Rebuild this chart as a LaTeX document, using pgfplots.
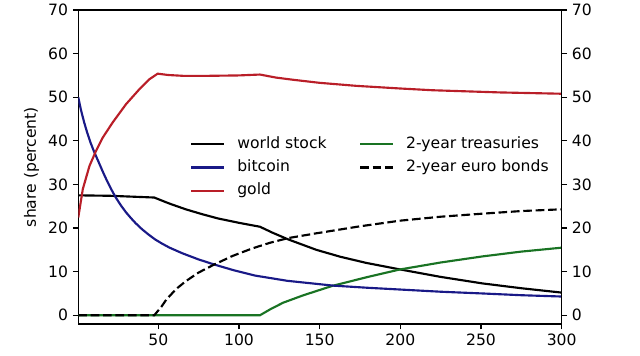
\documentclass[border=0pt]{standalone}
\usepackage{fontspec}
\setmainfont{DejaVu Sans}
\usepackage{pgfplots}
\pgfplotsset{compat=1.18}
\definecolor{cblue}{RGB}{25,25,135}
\definecolor{cred}{RGB}{185,30,40}
\definecolor{cgreen}{RGB}{25,115,35}
\pgfplotsset{
  myax/.style={
    scale only axis, width=362.55pt, height=235.5pt,
    xmin=0.4, xmax=300, ymin=-2, ymax=70,
    ytick={0,10,...,70},
    tick align=outside, major tick length=4.1pt,
    tick style={line width=0.9pt, black},
    axis line style={line width=0.9pt},
    /pgf/number format/assume math mode=true,
    ticklabel style={font=\fontsize{11.7}{14}\selectfont},
    label style={font=\fontsize{11.7}{14}\selectfont},
  }
}
\begin{document}
\begin{tikzpicture}
\begin{axis}[myax,
  xtick={50,100,...,300},
  xtick pos=lower, ytick pos=left, yticklabel pos=left,
  ylabel={share (percent)},
  title={Optimal Shares with Sanctions},
  title style={font=\fontsize{13}{15}\selectfont, at={(0.5,1)}, anchor=base, yshift=4.5pt, inner sep=0pt},
  legend columns=2,
  legend image code/.code={\draw[#1] (0pt,0pt) -- (24.75pt,0pt);},
  legend style={draw=none, fill=none, inner sep=0pt,
    at={(0.231,0.597)}, anchor=north west,
    font=\fontsize{11.7}{14}\selectfont,
    nodes={inner sep=0pt, text height=8.5pt, text depth=2.5pt},
    row sep=6.5pt,
    /tikz/every odd column/.append style={column sep=9pt},
    /tikz/every even column/.append style={column sep=24.3pt}},
  legend cell align=left,
]
\addplot[black, line width=1.6pt] coordinates {
(0.4,27.5) (20,27.4) (47.5,27.0) (57,25.6) (67,24.3) (77,23.2) (87,22.2) (100,21.2) (113,20.3)
(121,18.9) (130.5,17.4) (148,15.0) (163,13.4) (179,12.0) (200,10.5) (225,8.8) (251,7.3) (275,6.2) (300,5.2)};
\addlegendentry{world stock}
\addplot[cgreen, line width=1.6pt] coordinates {
(0.4,0) (113,0) (120,1.5) (127.5,2.9) (140,4.6) (158.4,6.8) (180,8.8) (199.7,10.5) (225,12.1) (251,13.5) (275,14.6) (300,15.5)};
\addlegendentry{2-year treasuries}
\addplot[cblue, line width=1.6pt] coordinates {
(0.4,50.0) (2,47.2) (4,44.3) (6,41.8) (8,39.6) (10,37.7) (12,36.0) (14,34.3) (16,32.6) (18,31.0)
(20,29.5) (22,28.1) (24,26.8) (27,25.1) (30,23.6) (33,22.3) (36,21.1) (40,19.7) (44,18.5) (48,17.4)
(52,16.5) (57,15.5) (65,14.2) (75,12.8) (85,11.6) (97,10.3) (110,9.1) (130,7.9) (158.4,6.8)
(180,6.3) (200,5.9) (225,5.4) (251,5.0) (275,4.6) (300,4.3)};
\addlegendentry{bitcoin}
\addplot[black, line width=1.6pt, dash pattern=on 6.5pt off 2.8pt] coordinates {
(0.4,0) (47.5,0) (50,1.1) (52,2.0) (55,3.6) (58.5,5.0) (62,6.3) (67,7.8) (75,9.8) (85,11.7) (96,13.6) (108,15.3) (119,16.6) (130.5,17.7)
(148,18.8) (175,20.4) (200,21.7) (225,22.6) (251,23.3) (275,23.9) (300,24.3)};
\addlegendentry{2-year euro bonds}
\addplot[cred, line width=1.6pt] coordinates {
(0.4,22.4) (3.2,28.9) (7.3,34.2) (11.4,37.7) (15.5,40.7) (21.7,44.2) (30,48.4) (38.2,51.8) (44.4,54.1) (49.6,55.4)
(56,55.1) (65.5,54.9) (80,54.9) (100,55.0) (113,55.2) (123,54.5) (133.6,54.0) (150,53.3) (173,52.6) (200,52.0) (220,51.6) (261.7,51.1) (300,50.8)};
\addlegendentry{gold}
\end{axis}
\begin{axis}[myax,
  hide x axis, axis y line*=right,
  ytick pos=right, yticklabel pos=right,
]
\addplot[draw=none] coordinates {(100,10)};
\end{axis}
\pgfresetboundingbox
\useasboundingbox (-58.7pt,-24pt) rectangle (421.3pt,243pt);
\end{tikzpicture}
\end{document}
